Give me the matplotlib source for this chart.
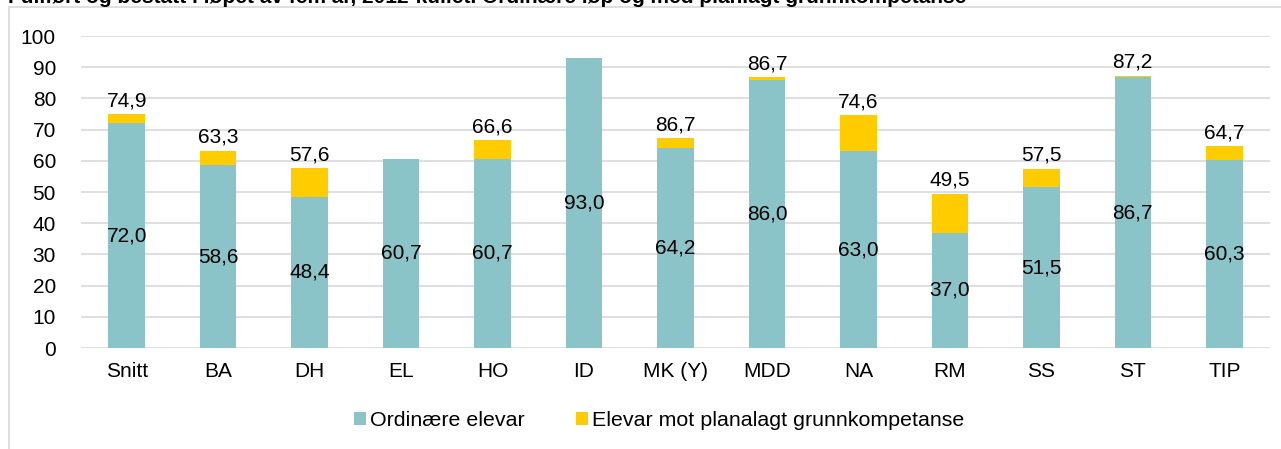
import matplotlib.pyplot as plt
from matplotlib.patches import Rectangle

plt.rcParams['font.family'] = ['Liberation Sans', 'DejaVu Sans']

categories = ["Snitt", "BA", "DH", "EL", "HO", "ID", "MK (Y)", "MDD", "NA", "RM", "SS", "ST", "TIP"]
ordinary = [72.0, 58.6, 48.4, 60.7, 60.7, 93.0, 64.2, 86.0, 63.0, 37.0, 51.5, 86.7, 60.3]
planned = [2.9, 4.7, 9.2, 0.0, 5.9, 0.0, 3.0, 0.7, 11.6, 12.5, 6.0, 0.5, 4.4]
# total labels as printed in the source (MK (Y) label does not match its bar)
total_labels = ["74,9", "63,3", "57,6", None, "66,6", None, "86,7", "86,7", "74,6", "49,5", "57,5", "87,2", "64,7"]

teal = "#8AC4C8"
yellow = "#FFCC00"
fs = 15

fig = plt.figure(figsize=(12.81, 4.49), dpi=100)
ax = fig.add_axes([81 / 1281, 1 - 348 / 449, 1189 / 1281, 312 / 449])

x = range(len(categories))
ax.bar(x, ordinary, width=0.4, color=teal, label="Ordinære elevar", zorder=2)
ax.bar(x, planned, width=0.4, bottom=ordinary, color=yellow,
       label="Elevar mot planalagt grunnkompetanse", zorder=2)

for i, v in enumerate(ordinary):
    ax.text(i, v / 2, f"{v:.1f}".replace(".", ","), ha="center", va="center", fontsize=fs, zorder=3)
    if total_labels[i]:
        ax.text(i, v + planned[i] + 1.3, total_labels[i], ha="center", va="bottom", fontsize=fs, zorder=3)

ax.set_xlim(-0.5, len(categories) - 0.5)
ax.set_ylim(0, 100)
ax.set_yticks(range(0, 101, 10))
ax.set_xticks(list(x))
ax.set_xticklabels(categories)
ax.tick_params(axis="both", length=0, labelsize=fs)
ax.tick_params(axis="x", pad=10)
ax.tick_params(axis="y", pad=18)
ax.yaxis.grid(True, color="#DCD8DC", linewidth=1.2, zorder=0)
for s in ax.spines.values():
    s.set_visible(False)

fig.legend(loc="center", bbox_to_anchor=(659 / 1281, 1 - 421 / 449), ncol=2, frameon=False,
           fontsize=15.4, handlelength=0.55, handleheight=0.55, handletextpad=0.2,
           columnspacing=2.4)

# chart frame
fig.add_artist(Rectangle((9 / 1281, -0.1), 1.2, 1 - 7 / 449 + 0.1, transform=fig.transFigure,
                         fill=False, edgecolor="#D9D9D9", linewidth=1.2))

# title, cut off at the top edge as in the source
fig.text(8 / 1281, 1 - 3 / 449, "Fullført og bestått i løpet av fem år, 2012-kullet. Ordinære løp og med planlagt grunnkompetanse",
         ha="left", va="baseline", fontsize=fs, fontweight="bold")

fig.savefig("out.png", dpi=100)
